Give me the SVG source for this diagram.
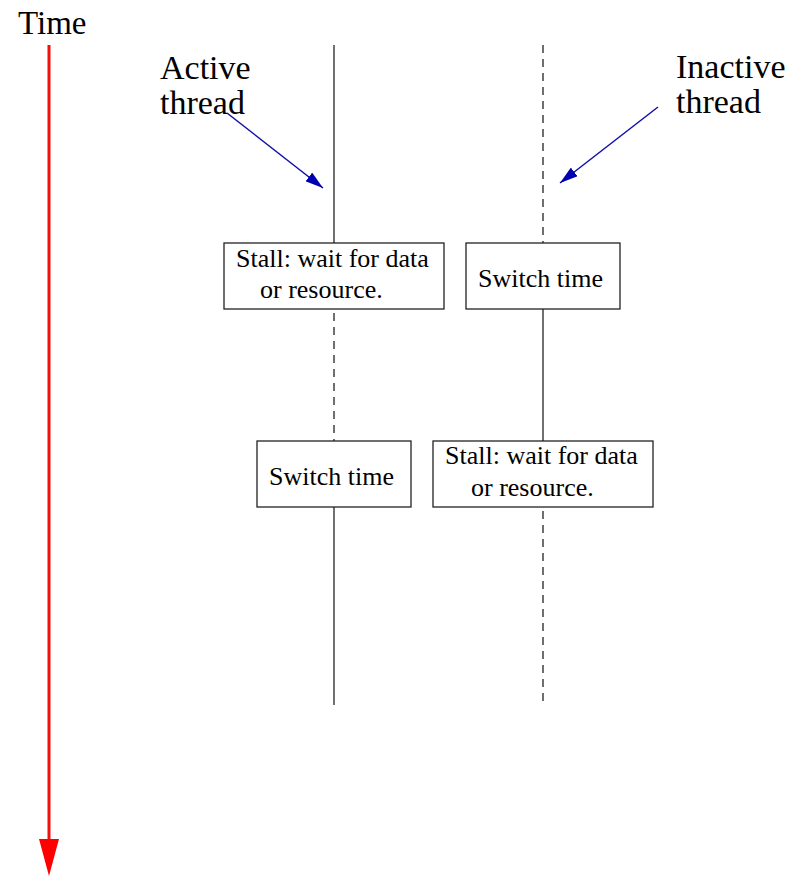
<svg xmlns="http://www.w3.org/2000/svg" width="790" height="876" viewBox="0 0 790 876">
  <style>
    .lbl { font-family: "Liberation Serif", "Times New Roman", serif; fill: #000; }
    .big { font-size: 34px; }
    .box text { font-size: 26px; }
    .box rect { fill: #fff; stroke: #222; stroke-width: 1.3; }
    .solid { stroke: #222; stroke-width: 1.3; fill: none; }
    .dash { stroke: #222; stroke-width: 1.3; fill: none; stroke-dasharray: 8 6; }
    .pointer { stroke: #1010a8; stroke-width: 1.5; fill: none; }
  </style>
  <defs>
    <marker id="blueHead" viewBox="0 0 18 11" refX="18" refY="5.5" markerWidth="18" markerHeight="11" markerUnits="userSpaceOnUse" orient="auto">
      <path d="M0,0 L18,5.5 L0,11 Z" fill="#0000b0"/>
    </marker>
  </defs>

  <rect width="790" height="876" fill="#fff"/>

  <!-- time axis -->
  <g id="time-axis">
    <text class="lbl" x="18" y="34" font-size="33">Time</text>
    <line x1="49" y1="45" x2="49" y2="842" stroke="#f01010" stroke-width="3"/>
    <polygon points="39,839 59,839 49,876" fill="#ff0000"/>
  </g>

  <!-- thread timelines -->
  <g id="connectors">
    <line class="solid" x1="334" y1="45" x2="334" y2="243"/>
    <line class="dash" x1="334" y1="313" x2="334" y2="441"/>
    <line class="solid" x1="334" y1="507" x2="334" y2="705"/>
    <line class="dash" x1="543" y1="45" x2="543" y2="243"/>
    <line class="solid" x1="543" y1="309" x2="543" y2="441"/>
    <line class="dash" x1="543" y1="511" x2="543" y2="705"/>
    <line class="pointer" x1="227" y1="113" x2="323" y2="188" marker-end="url(#blueHead)"/>
    <line class="pointer" x1="658" y1="107" x2="560" y2="183" marker-end="url(#blueHead)"/>
  </g>

  <g id="label-active">
    <text class="lbl big" x="160" y="79">Active</text>
    <text class="lbl big" x="160" y="114">thread</text>
  </g>
  <g id="label-inactive">
    <text class="lbl big" x="676" y="78">Inactive</text>
    <text class="lbl big" x="676" y="113">thread</text>
  </g>

  <g id="stall-active" class="box">
    <rect x="224" y="243" width="220" height="66"/>
    <text class="lbl" x="236" y="267">Stall: wait for data</text>
    <text class="lbl" x="260" y="298">or resource.</text>
  </g>
  <g id="switch-inactive" class="box">
    <rect x="466" y="243" width="154" height="66"/>
    <text class="lbl" x="478" y="287">Switch time</text>
  </g>
  <g id="switch-active" class="box">
    <rect x="257" y="441" width="154" height="66"/>
    <text class="lbl" x="269" y="485">Switch time</text>
  </g>
  <g id="stall-inactive" class="box">
    <rect x="433" y="441" width="220" height="66"/>
    <text class="lbl" x="445" y="464">Stall: wait for data</text>
    <text class="lbl" x="471" y="496">or resource.</text>
  </g>
</svg>
